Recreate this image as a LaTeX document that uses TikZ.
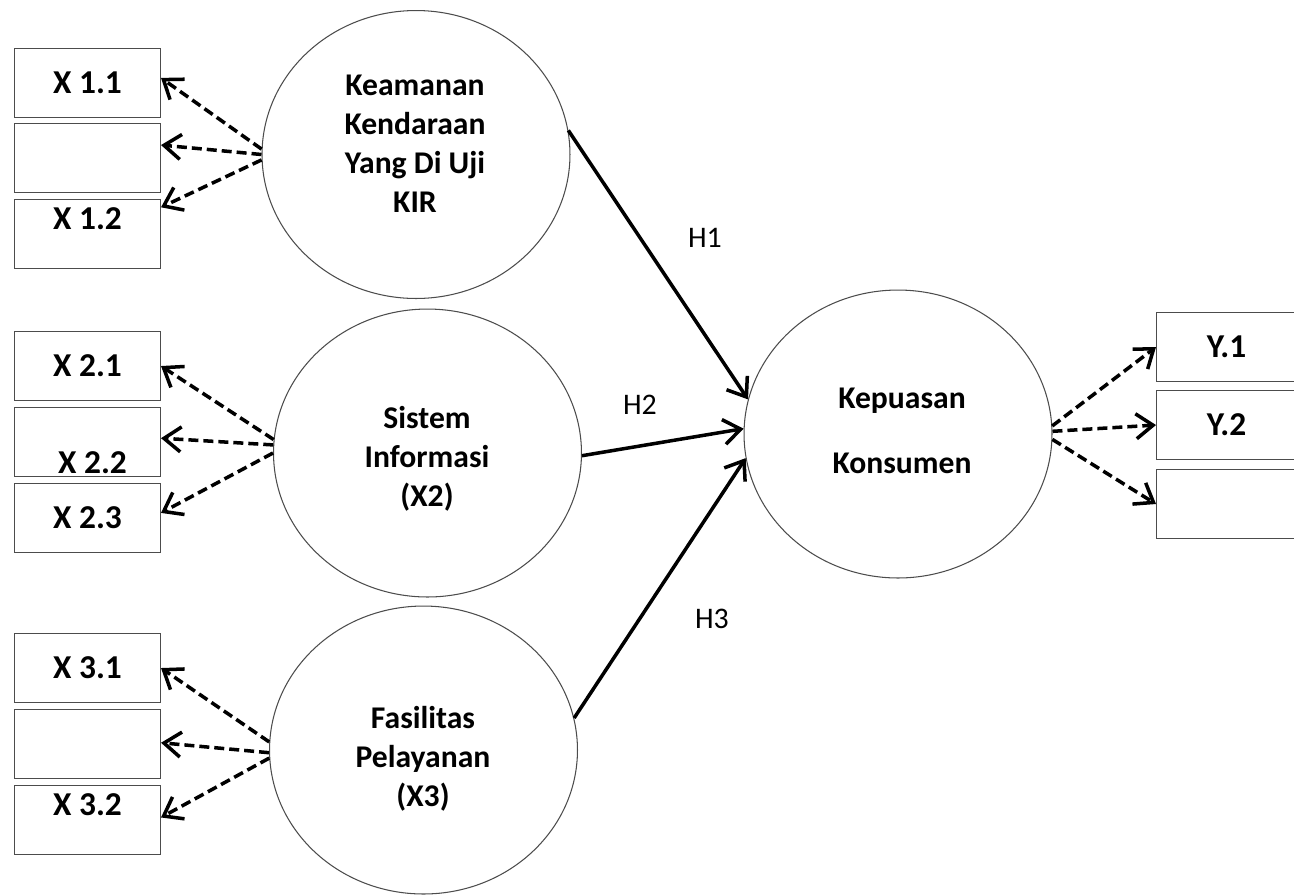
\documentclass[tikz,border=0pt]{standalone}
\usepackage{fontspec}
\setmainfont{Carlito}
\usetikzlibrary{shapes.geometric,arrows.meta}
\newcommand{\bw}{2.92cm}
\newcommand{\bh}{1.38cm}

\begin{document}
\begin{tikzpicture}[x=0.02cm, y=-0.02cm,
    rect/.style={draw=black!70, line width=0.6pt, rectangle, anchor=north west, minimum width=\bw, minimum height=\bh, inner sep=0pt, font=\fontsize{19}{22}\selectfont\bfseries},
    ell/.style={draw=black!70, line width=0.6pt, ellipse, minimum width=6.16cm, minimum height=5.76cm, inner sep=0pt},
    etxt/.style={align=center, inner sep=0pt, font=\fontsize{18}{22.1}\selectfont\bfseries},
    inlbl/.style={inner sep=0pt, font=\fontsize{19}{22}\selectfont\bfseries},
    hlbl/.style={inner sep=0pt, font=\fontsize{17}{20}\selectfont},
    ind/.style={line width=2pt, dash pattern=on 0.2cm off 0.1cm, -{Straight Barb[length=0.34cm, width=0.5cm]}},
    hyp/.style={line width=2pt, -{Straight Barb[length=0.34cm, width=0.5cm]}}]
    \useasboundingbox (0,0) rectangle (1294,894);

    % First group
    \node[rect] (box-1-1) at (14,48) {X 1.1};
    \node[rect] (box-1-2) at (14,123) {};
    \node[rect, label={[inlbl, anchor=north, yshift=-0.16cm]north:X 1.2}] (box-1-3) at (14,199) {};
    \node[ell] (ell-1) at (416,154.5) {};
    \node[etxt] (txt-1) at (415,143.5) {Keamanan\\Kendaraan\\Yang Di Uji\\KIR};

    % Second group
    \node[rect] (box-2-1) at (14,331) {X 2.1};
    \node[rect, label={[inlbl, anchor=south, xshift=0.1cm, yshift=0.06cm]south:X 2.2}] (box-2-2) at (14,407) {};
    \node[rect] (box-2-3) at (14,483) {X 2.3};
    \node[ell] (ell-2) at (427.5,453) {};
    \node[etxt] (txt-2) at (427,459) {Sistem\\Informasi\\(X2)};

    % Third group
    \node[rect] (box-3-1) at (14,633) {X 3.1};
    \node[rect] (box-3-2) at (14,709) {};
    \node[rect, label={[inlbl, anchor=north, yshift=-0.16cm]north:X 3.2}] (box-3-3) at (14,785) {};
    \node[ell] (ell-3) at (423.5,750) {};
    \node[etxt] (txt-3) at (423,758.5) {Fasilitas\\Pelayanan\\(X3)};

    % Dependent
    \node[ell] (ell-4) at (898,434) {};
    \node[etxt] (txt-4) at (902,430.5) {Kepuasan\\[15pt]Konsumen};
    \node[rect, minimum width=2.8cm] (box-4-1) at (1156,312) {Y.1};
    \node[rect, minimum width=2.8cm] (box-4-2) at (1156,390) {Y.2};
    \node[rect, minimum width=2.8cm] (box-4-3) at (1156,469) {};

    % Indicators
    \draw[ind] (ell-1.178) -- (box-1-1.4);
    \draw[ind] (ell-1.180) -- (box-1-2.10);
    \draw[ind] (ell-1.182) -- (box-1-3.20);
    \draw[ind] (ell-2.175) -- (box-2-1.0);
    \draw[ind] (ell-2.177) -- (box-2-2.3);
    \draw[ind] (ell-2.180) -- (box-2-3.4);
    \draw[ind] (ell-3.177) -- (box-3-1.0);
    \draw[ind] (ell-3.181) -- (box-3-2.1);
    \draw[ind] (ell-3.183) -- (box-3-3.2);
    \draw[ind] (ell-4.3) -- (box-4-1.west);
    \draw[ind] (ell-4.1) -- (box-4-2.west);
    \draw[ind] (ell-4.358) -- (box-4-3.west);

    % Hypotheses
    \draw[hyp] (ell-1.9) -- (ell-4.167);
    \draw[hyp] (ell-2.359) -- (ell-4.178);
    \draw[hyp] (ell-3.12) -- (ell-4.189);
    \node[hlbl] (h-1) at (705,238) {H1};
    \node[hlbl] (h-2) at (640,405) {H2};
    \node[hlbl] (h-3) at (712,619) {H3};

\end{tikzpicture}
\end{document}
